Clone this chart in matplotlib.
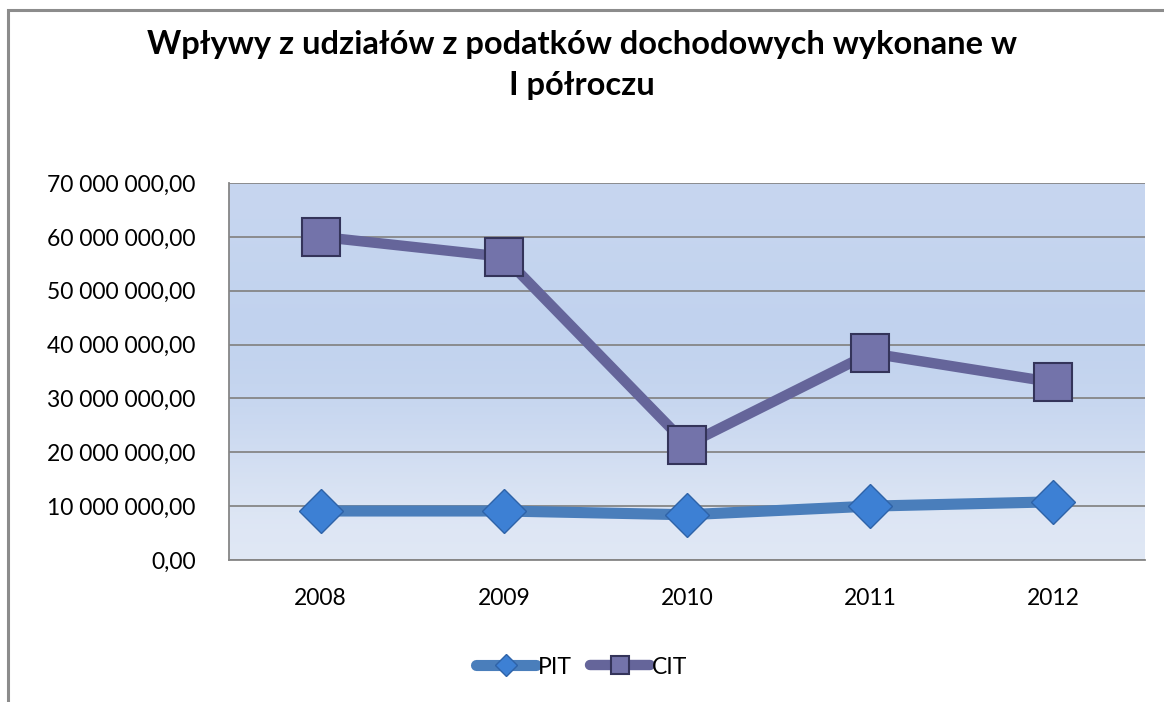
import numpy as np
import matplotlib
matplotlib.use('Agg')
import matplotlib.pyplot as plt
from matplotlib.patches import Rectangle
from matplotlib.ticker import FuncFormatter

plt.rcParams['font.family'] = ['Lato', 'DejaVu Sans']

years = ['2008', '2009', '2010', '2011', '2012']
pit = [9.1e6, 9.1e6, 8.4e6, 10.0e6, 10.8e6]
cit = [60.0e6, 56.3e6, 21.4e6, 38.4e6, 33.0e6]
title = 'Wpływy z udziałów z podatków dochodowych wykonane w\nI półroczu'


def pl_fmt(v, pos):
    s = '{:,.2f}'.format(v)
    return s.replace(',', ' ').replace('.', ',')


fig = plt.figure(figsize=(11.64, 7.02), dpi=100)
# ramka wykresu
fig.patches.append(Rectangle((8 / 1164, -0.1), 1.2, 1 - 10 / 702 + 0.1,
                             transform=fig.transFigure, fill=False,
                             edgecolor='#8c8c8c', linewidth=2.2))

ax = fig.add_axes([229 / 1164, 1 - 560 / 702, 916 / 1164, 377 / 702])
x = np.arange(len(years))

# gradient tła
grad = np.array([[0.78, 0.84, 0.94], [0.75, 0.82, 0.93], [0.78, 0.84, 0.94],
                 [0.88, 0.91, 0.96]])
ax.imshow(grad.reshape(4, 1, 3), extent=(-0.5, 4.5, 0, 70e6), aspect='auto',
          interpolation='bicubic', zorder=0)

ax.set_xlim(-0.5, 4.5)
ax.set_ylim(0, 70e6)
ax.set_yticks(np.arange(0, 70e6 + 1, 10e6))
ax.yaxis.set_major_formatter(FuncFormatter(pl_fmt))
ax.set_xticks(x)
ax.set_xticklabels(years)
ax.grid(axis='y', color='#868686', linewidth=1.3, zorder=1)
ax.tick_params(length=0, labelsize=16.5, pad=24, colors='#000000')
ax.tick_params(axis='x', pad=20)
for sp in ax.spines.values():
    sp.set_color('#868686')
    sp.set_linewidth(1.3)
ax.spines['top'].set_visible(False)
ax.spines['right'].set_visible(False)

ax.plot(x, pit, color='#4a7ebb', linewidth=8, marker='D', markersize=22,
        markerfacecolor='#3d80d4', markeredgecolor='#2e63a8',
        markeredgewidth=1, label='PIT', zorder=3, solid_capstyle='round')
ax.plot(x, cit, color='#65659a', linewidth=7.5, marker='s', markersize=27,
        markerfacecolor='#7373aa', markeredgecolor='#34345a',
        markeredgewidth=1.5, label='CIT', zorder=3, solid_capstyle='round')

fig.text(0.5, 0.957, title, ha='center', va='top', fontsize=23.5,
         fontweight='bold', linespacing=1.5)

leg = fig.legend(loc='center', bbox_to_anchor=(0.5, 1 - 667 / 702), ncol=2,
                 frameon=False, fontsize=16.5, handlelength=2.6,
                 columnspacing=0.8, handletextpad=0.1, markerscale=0.5)

fig.savefig('out.png', dpi=100)
